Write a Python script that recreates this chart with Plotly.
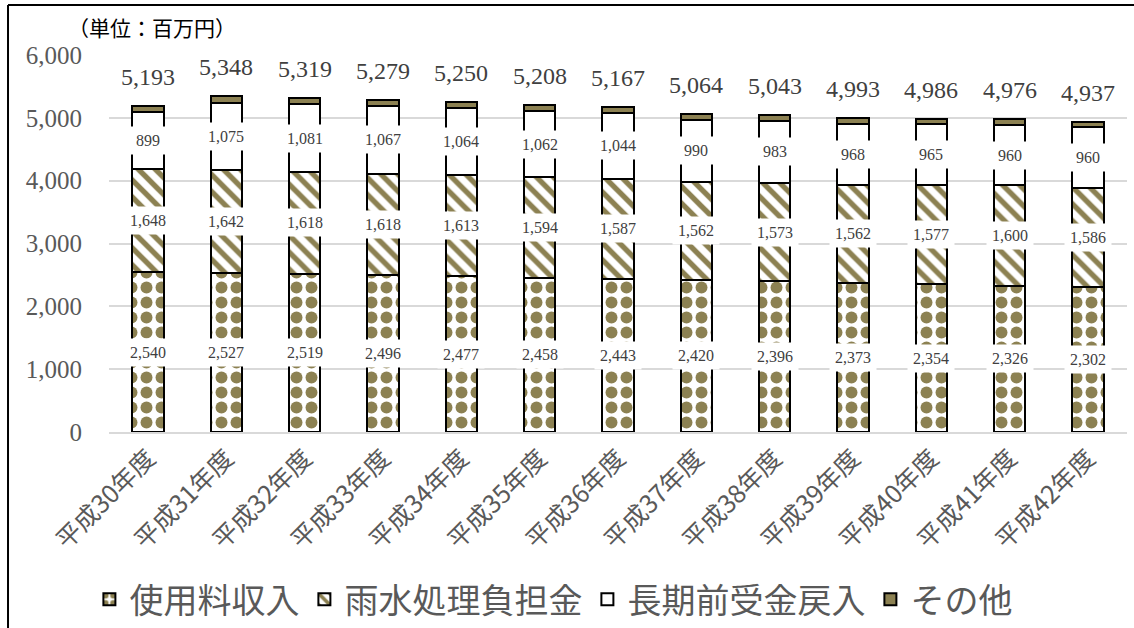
import plotly.graph_objects as go

# 年度別の収入内訳（単位：百万円）
years = ["平成30年度", "平成31年度", "平成32年度", "平成33年度", "平成34年度",
         "平成35年度", "平成36年度", "平成37年度", "平成38年度", "平成39年度",
         "平成40年度", "平成41年度", "平成42年度"]
usage_fee = [2540, 2527, 2519, 2496, 2477, 2458, 2443, 2420, 2396, 2373, 2354, 2326, 2302]
rainwater = [1648, 1642, 1618, 1618, 1613, 1594, 1587, 1562, 1573, 1562, 1577, 1600, 1586]
long_term = [899, 1075, 1081, 1067, 1064, 1062, 1044, 990, 983, 968, 965, 960, 960]
other = [106, 104, 101, 98, 96, 94, 93, 92, 91, 90, 90, 90, 89]

series_names = ["使用料収入", "雨水処理負担金", "長期前受金戻入", "その他"]
y_ticks = [0, 1000, 2000, 3000, 4000, 5000, 6000]

OLIVE = "#8C8152"
GRAY = "#595959"
DARK = "#404040"
NUM_FONT = "Liberation Serif, DejaVu Serif, serif"
JP_FONT = "Noto Sans CJK JP, sans-serif"

fig = go.Figure()

outline = dict(color="black", width=2)
fig.add_bar(x=years, y=usage_fee, name=series_names[0],
            marker=dict(color="white", line=outline,
                        pattern=dict(shape=".", fgcolor=OLIVE, bgcolor="white",
                                     size=15, solidity=0.5, fillmode="replace")))
fig.add_bar(x=years, y=rainwater, name=series_names[1],
            marker=dict(color="white", line=outline,
                        pattern=dict(shape="\\", fgcolor=OLIVE, bgcolor="white",
                                     size=12, solidity=0.45, fillmode="replace")))
fig.add_bar(x=years, y=long_term, name=series_names[2],
            marker=dict(color="white", line=outline))
fig.add_bar(x=years, y=other, name=series_names[3],
            marker=dict(color=OLIVE, line=outline))

annotations = []
# 各区分の値ラベル（区分の中央、白背景）
for i, yr in enumerate(years):
    base = 0
    for vals in (usage_fee, rainwater, long_term):
        v = vals[i]
        annotations.append(dict(
            x=yr, y=base + v / 2, text=f"{v:,}", showarrow=False,
            xref="x", yref="y", bgcolor="white", borderpad=5,
            font=dict(family=NUM_FONT, size=16, color=DARK)))
        base += v
    total = usage_fee[i] + rainwater[i] + long_term[i] + other[i]
    annotations.append(dict(
        x=yr, y=total, text=f"{total:,}", showarrow=False,
        xref="x", yref="y", yanchor="middle", yshift=29,
        font=dict(family=NUM_FONT, size=24, color=DARK)))

annotations.append(dict(
    x=-0.042, y=1.075, xref="paper", yref="paper", xanchor="left", yanchor="middle",
    text="（単位：百万円）", showarrow=False,
    font=dict(family=JP_FONT, size=21, color="black")))

fig.update_layout(
    width=1134, height=628,
    margin=dict(l=109, r=7, t=55, b=196),
    paper_bgcolor="white", plot_bgcolor="white",
    barmode="stack", bargap=0.6,
    showlegend=True,
    legend=dict(orientation="h", xref="container", yref="container",
                x=0.488, xanchor="center", y=0.045, yanchor="middle",
                font=dict(family=JP_FONT, size=34, color=GRAY),
                traceorder="normal"),
    annotations=annotations,
    shapes=[
        dict(type="line", xref="paper", yref="paper", x0=-0.0992, x1=1.01,
             y0=1.1326, y1=1.1326, line=dict(color="black", width=2)),
        dict(type="line", xref="paper", yref="paper", x0=-0.0992, x1=-0.0992,
             y0=1.1326, y1=-0.55, line=dict(color="black", width=2)),
    ],
)
fig.update_xaxes(tickangle=-45, showgrid=False, showline=True, automargin=False,
                 linecolor="#D9D9D9", linewidth=1.5,
                 tickfont=dict(family=JP_FONT, size=25, color=GRAY))
fig.update_yaxes(range=[0, 6000], tickvals=y_ticks, tickformat=",", automargin=False,
                 showgrid=True, gridcolor="#D9D9D9", gridwidth=1.5,
                 zeroline=False, ticks="", ticklabelstandoff=26,
                 tickfont=dict(family=NUM_FONT, size=25, color=GRAY))

fig.write_html("out.html")
